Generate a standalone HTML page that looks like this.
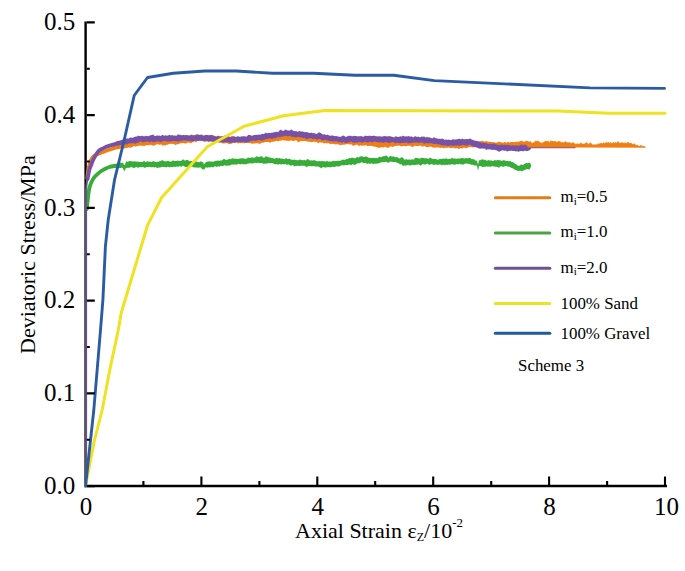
<!DOCTYPE html>
<html><head><meta charset="utf-8"><style>
html,body{margin:0;padding:0;background:#fff;width:685px;height:571px;overflow:hidden}
svg{display:block}
text{font-family:"Liberation Serif",serif;fill:#000}
.tk{font-size:25px}
.lg{font-size:16.9px}
.sub{font-size:11px}
.ax{font-size:22px}
.subz{font-size:12px}
.sup{font-size:13px}
</style></head><body>
<svg width="685" height="571" viewBox="0 0 685 571">
<rect width="685" height="571" fill="#fff"/>
<path d="M85.6,21.5 V487.3 M84.3,486 H667" stroke="#000" stroke-width="2.4" fill="none"/>
<g fill="none" stroke-linejoin="round" stroke-linecap="round">
<path d="M86.9,209.0 C87.0,208.3 87.1,206.2 87.2,205.0 C87.3,203.8 87.4,203.1 87.6,201.5 C87.8,199.9 87.9,197.7 88.2,195.4 C88.5,193.1 89.0,189.8 89.5,187.6 C90.0,185.4 90.7,183.7 91.5,182.0 C92.3,180.3 93.2,178.6 94.2,177.3 C95.2,176.0 96.2,175.2 97.4,174.2 C98.6,173.1 100.0,171.9 101.3,171.0 C102.6,170.1 103.8,169.4 105.3,168.7 C106.8,168.0 109.2,167.0 110.0,166.7" stroke="#38AC38" stroke-width="3.8"/><path d="M110.0,164.8 111.0,164.6 112.0,164.4 113.0,164.1 114.0,163.9 115.0,163.7 116.0,163.7 117.0,163.5 118.0,163.4 119.0,163.0 120.0,162.5 121.0,162.8 122.0,162.9 123.0,162.4 124.0,165.1 125.0,164.9 126.0,161.4 127.0,161.4 128.0,161.9 129.0,160.9 130.0,161.0 131.0,160.9 132.0,161.6 133.0,161.5 134.0,161.3 135.0,161.6 136.0,161.3 137.0,162.1 138.0,161.3 139.0,162.1 140.0,162.1 141.0,161.7 142.0,161.9 143.0,161.7 144.0,160.4 145.0,161.7 146.0,161.9 147.0,161.2 148.0,161.6 149.0,161.7 150.0,161.4 151.0,161.9 152.0,162.0 153.0,161.1 154.0,161.3 155.0,161.9 156.0,161.9 157.0,161.7 158.0,161.7 159.0,161.8 160.0,160.4 161.0,161.3 162.0,160.1 163.0,160.5 164.0,160.9 165.0,161.6 166.0,161.3 167.0,161.2 168.0,160.4 169.0,161.3 170.0,161.7 171.0,161.6 172.0,161.2 173.0,160.3 174.0,161.0 175.0,161.0 176.0,160.9 177.0,160.8 178.0,160.5 179.0,161.0 180.0,160.7 181.0,160.9 182.0,160.3 183.0,159.2 184.0,160.0 185.0,160.8 186.0,159.9 187.0,160.1 188.0,160.1 189.0,160.9 190.0,161.3 191.0,161.0 192.0,160.9 193.0,161.6 194.0,161.9 195.0,162.2 196.0,161.2 197.0,162.0 198.0,162.0 199.0,162.3 200.0,162.1 201.0,161.1 202.0,162.2 203.0,162.1 204.0,164.6 205.0,163.0 206.0,162.0 207.0,161.8 208.0,161.6 209.0,161.3 210.0,161.4 211.0,161.4 212.0,161.5 213.0,161.7 214.0,161.6 215.0,161.1 216.0,160.8 217.0,160.7 218.0,160.5 219.0,160.7 220.0,160.7 221.0,160.3 222.0,160.4 223.0,159.4 224.0,158.8 225.0,159.6 226.0,159.8 227.0,159.7 228.0,159.6 229.0,158.8 230.0,159.1 231.0,159.2 232.0,158.0 233.0,158.6 234.0,158.8 235.0,158.4 236.0,158.8 237.0,159.0 238.0,158.7 239.0,158.9 240.0,158.3 241.0,158.4 242.0,158.3 243.0,158.2 244.0,158.5 245.0,158.7 246.0,158.7 247.0,158.4 248.0,157.3 249.0,158.0 250.0,157.7 251.0,157.8 252.0,157.3 253.0,157.8 254.0,157.8 255.0,157.6 256.0,156.8 257.0,156.0 258.0,157.2 259.0,157.0 260.0,156.2 261.0,156.8 262.0,156.1 263.0,157.4 264.0,157.7 265.0,157.3 266.0,155.8 267.0,157.3 268.0,156.4 269.0,157.5 270.0,157.6 271.0,157.7 272.0,158.2 273.0,158.0 274.0,158.5 275.0,158.8 276.0,157.9 277.0,158.0 278.0,158.4 279.0,157.9 280.0,158.3 281.0,158.7 282.0,158.5 283.0,158.8 284.0,159.2 285.0,159.0 286.0,158.0 287.0,158.7 288.0,159.2 289.0,158.6 290.0,159.1 291.0,159.7 292.0,159.5 293.0,160.0 294.0,159.6 295.0,159.7 296.0,160.2 297.0,160.1 298.0,160.4 299.0,159.7 300.0,159.4 301.0,160.1 302.0,160.1 303.0,160.5 304.0,159.8 305.0,160.2 306.0,160.6 307.0,159.2 308.0,159.1 309.0,160.0 310.0,160.4 311.0,160.3 312.0,160.5 313.0,160.4 314.0,159.9 315.0,160.6 316.0,160.8 317.0,161.3 318.0,161.2 319.0,161.3 320.0,160.8 321.0,161.4 322.0,160.5 323.0,161.5 324.0,161.0 325.0,161.5 326.0,161.6 327.0,160.6 328.0,161.4 329.0,161.4 330.0,161.6 331.0,161.6 332.0,161.4 333.0,160.6 334.0,161.2 335.0,161.1 336.0,160.9 337.0,161.1 338.0,160.7 339.0,160.8 340.0,160.8 341.0,160.4 342.0,160.0 343.0,159.5 344.0,159.9 345.0,159.4 346.0,159.5 347.0,158.8 348.0,159.0 349.0,157.9 350.0,158.0 351.0,158.3 352.0,157.3 353.0,158.2 354.0,158.1 355.0,158.5 356.0,157.7 357.0,157.1 358.0,157.3 359.0,157.5 360.0,156.2 361.0,156.4 362.0,156.2 363.0,156.5 364.0,156.9 365.0,156.9 366.0,156.0 367.0,157.0 368.0,157.2 369.0,158.0 370.0,158.0 371.0,157.8 372.0,158.0 373.0,158.1 374.0,157.8 375.0,158.2 376.0,157.8 377.0,158.2 378.0,157.9 379.0,156.6 380.0,157.2 381.0,157.1 382.0,156.8 383.0,156.3 384.0,156.2 385.0,155.9 386.0,155.6 387.0,155.8 388.0,157.3 389.0,157.6 390.0,155.4 391.0,156.3 392.0,156.6 393.0,156.4 394.0,156.6 395.0,157.1 396.0,157.4 397.0,156.8 398.0,157.7 399.0,158.2 400.0,158.5 401.0,157.2 402.0,157.6 403.0,157.4 404.0,159.2 405.0,159.9 406.0,158.8 407.0,159.6 408.0,159.7 409.0,159.5 410.0,159.5 411.0,159.8 412.0,159.3 413.0,159.5 414.0,159.6 415.0,158.1 416.0,157.7 417.0,157.9 418.0,158.2 419.0,158.4 420.0,158.4 421.0,158.2 422.0,157.5 423.0,157.9 424.0,158.1 425.0,158.6 426.0,158.0 427.0,158.6 428.0,158.8 429.0,158.6 430.0,157.5 431.0,158.1 432.0,158.8 433.0,159.1 434.0,158.7 435.0,159.0 436.0,159.1 437.0,159.4 438.0,159.7 439.0,159.2 440.0,158.7 441.0,159.1 442.0,159.1 443.0,158.4 444.0,158.8 445.0,158.8 446.0,158.3 447.0,158.8 448.0,159.1 449.0,159.0 450.0,158.7 451.0,158.8 452.0,157.6 453.0,158.4 454.0,158.6 455.0,158.5 456.0,158.8 457.0,158.7 458.0,158.2 459.0,158.8 460.0,158.5 461.0,158.1 462.0,158.3 463.0,157.8 464.0,158.7 465.0,158.3 466.0,158.0 467.0,158.3 468.0,158.3 469.0,157.9 470.0,157.7 471.0,158.5 472.0,159.2 473.0,159.1 474.0,159.2 475.0,160.2 476.0,160.8 477.0,160.5 478.0,164.8 479.0,160.0 480.0,160.4 481.0,159.4 482.0,159.8 483.0,159.1 484.0,160.2 485.0,159.6 486.0,160.3 487.0,160.7 488.0,160.2 489.0,160.1 490.0,160.8 491.0,160.3 492.0,160.7 493.0,161.1 494.0,160.5 495.0,160.1 496.0,160.5 497.0,160.2 498.0,159.7 499.0,160.3 500.0,160.2 501.0,160.5 502.0,160.9 503.0,160.3 504.0,160.2 505.0,160.6 506.0,161.0 507.0,160.9 508.0,160.8 509.0,161.4 510.0,160.8 511.0,161.5 512.0,162.2 513.0,162.1 514.0,163.1 515.0,163.7 516.0,163.9 517.0,165.1 518.0,165.8 519.0,165.6 520.0,165.7 521.0,163.9 522.0,165.0 523.0,165.1 524.0,164.3 525.0,163.7 526.0,162.7 527.0,163.2 528.0,162.9 529.0,162.9 530.0,162.6 531.2,165.7 530.0,168.8 529.0,169.6 528.0,169.3 527.0,169.1 526.0,169.4 525.0,169.8 524.0,170.5 523.0,170.6 522.0,171.5 521.0,171.1 520.0,170.6 519.0,171.0 518.0,170.9 517.0,170.4 516.0,170.2 515.0,169.7 514.0,169.3 513.0,168.4 512.0,167.9 511.0,167.7 510.0,166.9 509.0,166.6 508.0,166.7 507.0,166.3 506.0,166.0 505.0,166.3 504.0,166.6 503.0,166.9 502.0,166.5 501.0,166.1 500.0,166.8 499.0,167.7 498.0,167.3 497.0,166.7 496.0,166.8 495.0,166.8 494.0,166.4 493.0,166.3 492.0,166.2 491.0,166.4 490.0,167.0 489.0,166.2 488.0,167.1 487.0,166.2 486.0,166.6 485.0,166.9 484.0,166.5 483.0,167.2 482.0,166.7 481.0,166.3 480.0,165.9 479.0,166.0 478.0,171.1 477.0,165.6 476.0,165.6 475.0,165.4 474.0,165.4 473.0,164.7 472.0,164.7 471.0,164.8 470.0,164.0 469.0,164.0 468.0,163.7 467.0,163.5 466.0,163.5 465.0,163.8 464.0,164.1 463.0,164.9 462.0,164.1 461.0,164.7 460.0,163.8 459.0,164.1 458.0,164.6 457.0,163.9 456.0,164.2 455.0,164.8 454.0,164.8 453.0,164.3 452.0,164.6 451.0,164.3 450.0,165.0 449.0,164.5 448.0,164.8 447.0,165.1 446.0,164.6 445.0,165.2 444.0,165.0 443.0,164.6 442.0,165.4 441.0,164.8 440.0,164.6 439.0,164.4 438.0,164.9 437.0,164.8 436.0,164.4 435.0,164.5 434.0,165.3 433.0,164.4 432.0,164.2 431.0,164.0 430.0,164.8 429.0,164.9 428.0,163.8 427.0,163.8 426.0,164.2 425.0,164.4 424.0,164.4 423.0,163.9 422.0,164.6 421.0,165.7 420.0,165.2 419.0,164.5 418.0,164.4 417.0,164.8 416.0,164.7 415.0,164.9 414.0,165.2 413.0,164.8 412.0,165.1 411.0,165.1 410.0,166.0 409.0,164.8 408.0,165.3 407.0,165.1 406.0,165.7 405.0,165.6 404.0,165.5 403.0,166.1 402.0,164.7 401.0,164.1 400.0,164.7 399.0,163.3 398.0,163.2 397.0,162.7 396.0,162.3 395.0,162.0 394.0,162.0 393.0,162.2 392.0,161.8 391.0,161.7 390.0,161.5 389.0,162.6 388.0,162.9 387.0,162.0 386.0,161.7 385.0,162.1 384.0,162.2 383.0,162.0 382.0,162.4 381.0,162.3 380.0,162.7 379.0,163.5 378.0,163.2 377.0,163.6 376.0,163.9 375.0,163.6 374.0,163.8 373.0,164.3 372.0,163.2 371.0,163.4 370.0,163.9 369.0,163.6 368.0,163.4 367.0,164.2 366.0,162.7 365.0,162.9 364.0,162.9 363.0,163.3 362.0,162.1 361.0,162.6 360.0,163.0 359.0,163.4 358.0,163.3 357.0,163.5 356.0,164.5 355.0,164.8 354.0,164.9 353.0,164.0 352.0,164.5 351.0,165.4 350.0,164.5 349.0,164.6 348.0,164.9 347.0,164.9 346.0,165.0 345.0,165.0 344.0,165.5 343.0,165.3 342.0,165.3 341.0,165.6 340.0,166.0 339.0,166.6 338.0,166.5 337.0,166.3 336.0,166.6 335.0,166.7 334.0,167.1 333.0,166.8 332.0,166.8 331.0,167.2 330.0,167.2 329.0,167.3 328.0,167.1 327.0,167.3 326.0,167.6 325.0,167.7 324.0,167.0 323.0,167.2 322.0,167.5 321.0,168.4 320.0,167.3 319.0,167.2 318.0,166.3 317.0,166.5 316.0,166.7 315.0,166.2 314.0,166.2 313.0,166.1 312.0,166.6 311.0,165.9 310.0,166.0 309.0,166.2 308.0,166.0 307.0,167.2 306.0,166.6 305.0,166.2 304.0,165.5 303.0,165.9 302.0,165.6 301.0,165.8 300.0,165.9 299.0,165.9 298.0,165.8 297.0,165.8 296.0,166.2 295.0,165.8 294.0,166.5 293.0,165.0 292.0,165.1 291.0,165.7 290.0,165.6 289.0,164.6 288.0,164.6 287.0,165.1 286.0,164.2 285.0,164.0 284.0,164.4 283.0,164.0 282.0,164.1 281.0,164.7 280.0,164.1 279.0,164.2 278.0,164.7 277.0,164.3 276.0,164.0 275.0,164.4 274.0,163.8 273.0,163.5 272.0,163.1 271.0,163.0 270.0,163.4 269.0,163.1 268.0,162.9 267.0,163.7 266.0,163.5 265.0,163.4 264.0,164.0 263.0,163.4 262.0,163.0 261.0,163.0 260.0,163.0 259.0,163.3 258.0,162.7 257.0,163.0 256.0,163.0 255.0,162.8 254.0,163.0 253.0,163.4 252.0,163.6 251.0,163.3 250.0,163.3 249.0,163.5 248.0,163.4 247.0,164.1 246.0,164.1 245.0,164.5 244.0,163.9 243.0,164.4 242.0,163.7 241.0,164.2 240.0,164.4 239.0,163.8 238.0,163.9 237.0,164.4 236.0,164.8 235.0,164.3 234.0,164.8 233.0,164.6 232.0,164.6 231.0,164.7 230.0,165.6 229.0,165.4 228.0,165.6 227.0,165.8 226.0,165.8 225.0,165.2 224.0,165.6 223.0,165.9 222.0,166.3 221.0,165.6 220.0,166.4 219.0,166.7 218.0,166.1 217.0,167.2 216.0,166.5 215.0,166.2 214.0,166.8 213.0,167.4 212.0,166.9 211.0,167.2 210.0,167.2 209.0,167.5 208.0,167.2 207.0,168.1 206.0,167.0 205.0,168.2 204.0,170.1 203.0,168.9 202.0,169.2 201.0,167.6 200.0,167.5 199.0,167.6 198.0,167.8 197.0,167.4 196.0,167.4 195.0,167.4 194.0,167.4 193.0,167.0 192.0,166.6 191.0,166.4 190.0,166.4 189.0,166.6 188.0,167.3 187.0,167.2 186.0,166.9 185.0,166.9 184.0,166.1 183.0,165.7 182.0,166.3 181.0,166.9 180.0,166.0 179.0,166.4 178.0,166.7 177.0,166.5 176.0,166.8 175.0,167.0 174.0,166.5 173.0,167.3 172.0,166.9 171.0,166.9 170.0,167.2 169.0,167.2 168.0,166.8 167.0,167.0 166.0,167.5 165.0,167.0 164.0,167.0 163.0,167.0 162.0,166.8 161.0,167.2 160.0,167.4 159.0,167.6 158.0,167.8 157.0,168.2 156.0,167.0 155.0,167.3 154.0,167.4 153.0,167.0 152.0,167.3 151.0,167.2 150.0,166.8 149.0,166.9 148.0,167.0 147.0,167.0 146.0,167.2 145.0,168.0 144.0,167.5 143.0,166.9 142.0,167.0 141.0,167.3 140.0,167.1 139.0,167.4 138.0,167.8 137.0,167.3 136.0,167.1 135.0,167.8 134.0,167.9 133.0,167.8 132.0,167.2 131.0,167.0 130.0,167.5 129.0,168.1 128.0,167.6 127.0,168.2 126.0,167.7 125.0,170.4 124.0,170.9 123.0,168.3 122.0,167.6 121.0,167.9 120.0,167.9 119.0,167.9 118.0,167.9 117.0,168.1 116.0,167.9 115.0,167.9 114.0,168.1 113.0,168.3 112.0,168.4 111.0,168.5 110.0,168.6Z" fill="#38AC38" stroke="none"/>
<path d="M87.2,178.0 C87.2,177.5 87.3,176.7 87.5,175.0 C87.7,173.3 88.2,170.1 88.6,168.0 C89.0,165.9 89.5,164.1 90.0,162.5 C90.5,160.9 91.0,159.8 91.8,158.6 C92.5,157.4 93.3,156.3 94.5,155.5 C95.7,154.7 97.4,154.4 98.8,153.8 C100.2,153.2 101.5,152.8 103.0,152.2 C104.5,151.6 105.8,150.9 107.5,150.3 C109.2,149.7 112.1,148.8 113.0,148.5" stroke="#EF7F14" stroke-width="3.6"/><path d="M113.0,146.5 114.0,146.0 115.0,145.6 116.0,145.3 117.0,144.8 118.0,144.6 119.0,144.3 120.0,143.8 121.0,143.6 122.0,143.6 123.0,143.4 124.0,142.7 125.0,142.8 126.0,141.7 127.0,141.8 128.0,141.3 129.0,141.7 130.0,141.2 131.0,140.8 132.0,140.5 133.0,140.7 134.0,140.1 135.0,139.8 136.0,140.3 137.0,140.1 138.0,140.1 139.0,138.1 140.0,138.8 141.0,139.2 142.0,139.6 143.0,138.6 144.0,138.7 145.0,139.4 146.0,139.5 147.0,139.4 148.0,138.3 149.0,137.6 150.0,138.6 151.0,138.4 152.0,137.7 153.0,138.6 154.0,137.9 155.0,138.4 156.0,138.4 157.0,136.7 158.0,138.0 159.0,138.5 160.0,137.6 161.0,138.2 162.0,138.5 163.0,137.7 164.0,138.2 165.0,138.6 166.0,138.6 167.0,137.8 168.0,137.9 169.0,138.2 170.0,138.0 171.0,138.3 172.0,138.4 173.0,138.3 174.0,136.8 175.0,137.5 176.0,136.9 177.0,137.2 178.0,136.5 179.0,136.8 180.0,136.8 181.0,136.9 182.0,137.0 183.0,137.3 184.0,137.0 185.0,136.4 186.0,136.8 187.0,136.6 188.0,136.4 189.0,136.1 190.0,135.7 191.0,134.8 192.0,134.5 193.0,135.2 194.0,135.2 195.0,135.5 196.0,134.4 197.0,133.7 198.0,134.4 199.0,134.8 200.0,135.0 201.0,135.3 202.0,135.4 203.0,135.7 204.0,135.5 205.0,135.4 206.0,135.4 207.0,135.4 208.0,135.3 209.0,135.7 210.0,135.7 211.0,135.4 212.0,135.8 213.0,135.2 214.0,135.6 215.0,136.2 216.0,136.4 217.0,136.5 218.0,136.2 219.0,135.8 220.0,136.4 221.0,136.2 222.0,136.5 223.0,136.6 224.0,137.0 225.0,136.8 226.0,136.6 227.0,136.7 228.0,136.6 229.0,136.8 230.0,136.8 231.0,136.5 232.0,136.0 233.0,136.2 234.0,136.0 235.0,136.8 236.0,136.8 237.0,137.2 238.0,137.3 239.0,137.1 240.0,137.4 241.0,136.8 242.0,136.6 243.0,137.2 244.0,136.7 245.0,137.0 246.0,136.7 247.0,137.2 248.0,137.0 249.0,136.2 250.0,136.4 251.0,137.0 252.0,136.5 253.0,136.6 254.0,136.7 255.0,135.8 256.0,136.6 257.0,137.1 258.0,135.4 259.0,136.0 260.0,136.2 261.0,136.1 262.0,135.3 263.0,136.2 264.0,136.0 265.0,136.2 266.0,135.7 267.0,136.1 268.0,135.3 269.0,135.3 270.0,135.6 271.0,135.8 272.0,135.6 273.0,135.6 274.0,134.2 275.0,134.8 276.0,134.6 277.0,134.5 278.0,134.7 279.0,134.3 280.0,133.9 281.0,134.5 282.0,134.2 283.0,134.2 284.0,134.5 285.0,134.6 286.0,134.1 287.0,134.2 288.0,133.8 289.0,134.3 290.0,133.8 291.0,134.0 292.0,134.4 293.0,134.5 294.0,134.3 295.0,134.1 296.0,134.5 297.0,134.3 298.0,134.6 299.0,134.6 300.0,135.0 301.0,134.8 302.0,134.6 303.0,134.1 304.0,134.8 305.0,134.3 306.0,134.7 307.0,134.6 308.0,134.2 309.0,134.7 310.0,135.1 311.0,135.6 312.0,135.6 313.0,135.6 314.0,136.1 315.0,136.1 316.0,134.8 317.0,135.6 318.0,136.0 319.0,136.0 320.0,135.9 321.0,136.4 322.0,136.2 323.0,136.3 324.0,136.7 325.0,136.6 326.0,137.0 327.0,136.9 328.0,137.1 329.0,137.2 330.0,137.1 331.0,137.4 332.0,136.8 333.0,137.8 334.0,137.6 335.0,137.3 336.0,135.9 337.0,137.0 338.0,137.8 339.0,137.9 340.0,137.4 341.0,137.8 342.0,138.1 343.0,138.0 344.0,137.3 345.0,137.7 346.0,137.6 347.0,137.8 348.0,137.3 349.0,138.2 350.0,137.6 351.0,138.3 352.0,138.0 353.0,137.9 354.0,138.3 355.0,138.7 356.0,138.3 357.0,138.7 358.0,138.4 359.0,137.9 360.0,138.8 361.0,138.3 362.0,138.9 363.0,138.9 364.0,139.0 365.0,139.3 366.0,138.8 367.0,139.6 368.0,137.8 369.0,138.9 370.0,139.5 371.0,140.1 372.0,140.2 373.0,139.5 374.0,139.6 375.0,140.6 376.0,141.1 377.0,141.3 378.0,141.4 379.0,140.5 380.0,140.9 381.0,140.9 382.0,140.0 383.0,139.6 384.0,139.9 385.0,140.8 386.0,139.9 387.0,140.3 388.0,140.7 389.0,139.8 390.0,138.9 391.0,140.0 392.0,140.5 393.0,140.1 394.0,139.3 395.0,139.9 396.0,139.9 397.0,139.7 398.0,139.9 399.0,139.7 400.0,140.1 401.0,139.5 402.0,139.8 403.0,139.9 404.0,140.3 405.0,140.1 406.0,139.7 407.0,139.6 408.0,139.9 409.0,138.9 410.0,139.6 411.0,139.4 412.0,138.8 413.0,139.3 414.0,139.5 415.0,139.6 416.0,140.0 417.0,139.6 418.0,139.8 419.0,139.7 420.0,139.9 421.0,139.4 422.0,140.0 423.0,139.6 424.0,139.7 425.0,140.1 426.0,140.0 427.0,140.2 428.0,140.1 429.0,140.3 430.0,140.7 431.0,140.7 432.0,140.4 433.0,140.9 434.0,140.4 435.0,140.3 436.0,140.9 437.0,140.4 438.0,141.1 439.0,140.8 440.0,141.5 441.0,141.6 442.0,141.5 443.0,140.7 444.0,141.6 445.0,141.9 446.0,141.9 447.0,141.9 448.0,141.5 449.0,141.6 450.0,141.5 451.0,141.8 452.0,141.2 453.0,141.8 454.0,141.6 455.0,142.2 456.0,141.9 457.0,141.9 458.0,141.4 459.0,141.7 460.0,142.1 461.0,141.9 462.0,142.0 463.0,142.0 464.0,141.5 465.0,141.0 466.0,141.6 467.0,141.2 468.0,140.6 469.0,140.6 470.0,140.9 471.0,141.2 472.0,140.8 473.0,141.1 474.0,140.4 475.0,140.8 476.0,140.7 477.0,140.9 478.0,141.3 479.0,141.2 480.0,141.4 481.0,140.9 482.0,140.8 483.0,141.2 484.0,141.3 485.0,141.4 486.0,140.9 487.0,141.4 488.0,141.4 489.0,142.0 490.0,141.8 491.0,142.0 492.0,142.0 493.0,142.3 494.0,142.3 495.0,142.5 496.0,142.5 497.0,142.7 498.0,141.7 499.0,141.8 500.0,142.0 501.0,142.2 502.0,142.4 503.0,142.7 504.0,142.3 505.0,141.9 506.0,142.4 507.0,142.7 508.0,141.6 509.0,142.2 510.0,142.4 511.0,141.9 512.0,141.9 513.0,141.9 514.0,142.1 515.0,142.2 516.0,141.8 517.0,141.5 518.0,142.0 519.0,141.3 520.0,141.5 521.0,140.6 522.0,140.9 523.0,141.4 524.0,141.5 525.0,141.7 526.0,140.4 527.0,141.1 528.0,141.3 529.0,141.7 530.0,141.2 531.0,141.4 532.2,144.3 531.0,147.9 530.0,148.1 529.0,147.1 528.0,147.3 527.0,147.2 526.0,147.8 525.0,147.5 524.0,147.4 523.0,147.8 522.0,147.7 521.0,148.5 520.0,148.4 519.0,147.9 518.0,148.0 517.0,148.8 516.0,148.4 515.0,148.4 514.0,148.5 513.0,149.3 512.0,149.4 511.0,149.6 510.0,149.1 509.0,148.5 508.0,148.3 507.0,148.6 506.0,149.0 505.0,149.5 504.0,148.7 503.0,148.2 502.0,148.5 501.0,148.8 500.0,148.6 499.0,148.7 498.0,148.0 497.0,148.2 496.0,148.6 495.0,148.8 494.0,148.3 493.0,149.0 492.0,148.1 491.0,148.1 490.0,148.3 489.0,149.0 488.0,148.1 487.0,148.5 486.0,148.1 485.0,148.7 484.0,148.2 483.0,148.3 482.0,147.0 481.0,147.0 480.0,147.5 479.0,147.7 478.0,147.1 477.0,146.9 476.0,146.9 475.0,146.9 474.0,147.0 473.0,147.6 472.0,147.5 471.0,146.8 470.0,146.9 469.0,147.3 468.0,147.5 467.0,147.8 466.0,148.5 465.0,147.8 464.0,147.7 463.0,147.9 462.0,148.7 461.0,148.1 460.0,148.2 459.0,149.2 458.0,148.4 457.0,148.0 456.0,148.4 455.0,148.0 454.0,148.4 453.0,147.5 452.0,147.9 451.0,147.9 450.0,148.0 449.0,147.6 448.0,147.6 447.0,148.0 446.0,147.8 445.0,147.8 444.0,148.6 443.0,148.1 442.0,147.6 441.0,147.9 440.0,147.8 439.0,147.6 438.0,147.5 437.0,147.2 436.0,147.5 435.0,147.8 434.0,147.5 433.0,147.4 432.0,147.2 431.0,146.6 430.0,146.6 429.0,147.1 428.0,146.9 427.0,147.2 426.0,147.0 425.0,146.0 424.0,146.1 423.0,146.5 422.0,146.7 421.0,145.5 420.0,145.7 419.0,145.8 418.0,146.1 417.0,146.1 416.0,145.9 415.0,145.6 414.0,146.0 413.0,147.3 412.0,146.7 411.0,146.3 410.0,145.8 409.0,145.8 408.0,145.8 407.0,146.0 406.0,146.4 405.0,146.1 404.0,145.9 403.0,146.1 402.0,146.2 401.0,146.5 400.0,145.8 399.0,145.7 398.0,145.7 397.0,145.7 396.0,145.9 395.0,146.1 394.0,146.3 393.0,147.2 392.0,146.6 391.0,146.6 390.0,146.6 389.0,147.7 388.0,147.4 387.0,147.9 386.0,147.0 385.0,146.8 384.0,147.2 383.0,147.6 382.0,147.2 381.0,147.3 380.0,147.6 379.0,147.9 378.0,147.4 377.0,147.3 376.0,147.1 375.0,146.5 374.0,146.8 373.0,146.2 372.0,146.0 371.0,145.9 370.0,145.7 369.0,145.9 368.0,145.9 367.0,146.1 366.0,145.0 365.0,145.5 364.0,145.7 363.0,145.2 362.0,145.9 361.0,145.4 360.0,145.2 359.0,146.4 358.0,145.0 357.0,144.7 356.0,144.7 355.0,145.2 354.0,145.4 353.0,146.1 352.0,144.8 351.0,144.3 350.0,144.5 349.0,144.6 348.0,144.1 347.0,144.0 346.0,144.4 345.0,144.4 344.0,144.7 343.0,144.7 342.0,144.7 341.0,144.9 340.0,145.2 339.0,144.6 338.0,144.4 337.0,144.1 336.0,144.4 335.0,144.3 334.0,144.0 333.0,143.8 332.0,144.1 331.0,143.7 330.0,144.2 329.0,143.3 328.0,143.1 327.0,143.5 326.0,143.2 325.0,143.0 324.0,143.7 323.0,142.6 322.0,142.8 321.0,142.5 320.0,142.3 319.0,142.7 318.0,143.2 317.0,142.2 316.0,141.8 315.0,142.2 314.0,141.5 313.0,141.7 312.0,142.3 311.0,142.0 310.0,141.9 309.0,141.6 308.0,141.7 307.0,141.4 306.0,141.1 305.0,141.0 304.0,141.1 303.0,141.0 302.0,140.9 301.0,141.2 300.0,141.1 299.0,142.0 298.0,142.4 297.0,140.6 296.0,140.6 295.0,140.3 294.0,141.0 293.0,140.9 292.0,140.6 291.0,140.6 290.0,140.5 289.0,141.2 288.0,140.6 287.0,140.9 286.0,140.5 285.0,140.6 284.0,140.6 283.0,140.1 282.0,140.2 281.0,140.8 280.0,140.5 279.0,141.1 278.0,141.3 277.0,140.7 276.0,140.9 275.0,141.2 274.0,141.4 273.0,141.7 272.0,141.7 271.0,141.9 270.0,143.0 269.0,142.1 268.0,141.9 267.0,142.0 266.0,142.0 265.0,142.0 264.0,142.5 263.0,142.8 262.0,142.8 261.0,143.0 260.0,143.9 259.0,143.8 258.0,143.2 257.0,143.3 256.0,143.3 255.0,143.6 254.0,143.4 253.0,143.4 252.0,143.9 251.0,143.1 250.0,143.3 249.0,143.3 248.0,142.8 247.0,143.0 246.0,142.8 245.0,143.0 244.0,143.5 243.0,143.1 242.0,143.2 241.0,143.1 240.0,143.2 239.0,143.0 238.0,143.7 237.0,142.8 236.0,142.5 235.0,142.5 234.0,142.5 233.0,143.0 232.0,143.5 231.0,143.8 230.0,144.0 229.0,144.2 228.0,143.6 227.0,143.2 226.0,143.0 225.0,143.4 224.0,143.3 223.0,143.7 222.0,142.7 221.0,142.5 220.0,142.3 219.0,142.9 218.0,142.2 217.0,142.1 216.0,142.4 215.0,142.1 214.0,142.3 213.0,141.9 212.0,141.8 211.0,141.8 210.0,141.5 209.0,141.9 208.0,142.1 207.0,141.3 206.0,141.4 205.0,141.8 204.0,141.7 203.0,141.1 202.0,141.3 201.0,140.8 200.0,140.9 199.0,140.7 198.0,141.1 197.0,141.3 196.0,142.5 195.0,141.4 194.0,141.4 193.0,141.9 192.0,142.4 191.0,143.2 190.0,143.1 189.0,142.6 188.0,142.6 187.0,142.9 186.0,143.4 185.0,143.6 184.0,143.2 183.0,142.9 182.0,143.1 181.0,143.4 180.0,143.3 179.0,144.0 178.0,144.2 177.0,144.2 176.0,144.7 175.0,144.9 174.0,143.9 173.0,144.0 172.0,143.8 171.0,144.0 170.0,143.8 169.0,144.1 168.0,144.4 167.0,144.8 166.0,145.1 165.0,145.7 164.0,144.7 163.0,145.9 162.0,145.1 161.0,144.3 160.0,144.9 159.0,144.5 158.0,144.2 157.0,144.5 156.0,144.5 155.0,145.3 154.0,145.8 153.0,145.5 152.0,145.5 151.0,144.7 150.0,144.8 149.0,145.2 148.0,145.2 147.0,145.0 146.0,145.5 145.0,145.6 144.0,146.6 143.0,145.5 142.0,145.9 141.0,145.5 140.0,145.8 139.0,145.7 138.0,145.7 137.0,146.3 136.0,146.4 135.0,146.5 134.0,146.1 133.0,146.5 132.0,147.2 131.0,147.6 130.0,147.8 129.0,147.5 128.0,147.5 127.0,148.0 126.0,148.1 125.0,148.2 124.0,148.6 123.0,148.7 122.0,148.8 121.0,148.5 120.0,148.8 119.0,148.9 118.0,149.3 117.0,149.3 116.0,149.5 115.0,149.8 114.0,150.0 113.0,150.3Z" fill="#EF7F14" stroke="none"/>
<path d="M87.6,179.0 C87.6,178.8 87.5,179.2 87.8,177.7 C88.1,176.2 88.8,172.1 89.3,170.0 C89.8,167.9 90.5,166.8 91.1,165.2 C91.7,163.6 92.3,161.8 93.0,160.3 C93.7,158.9 94.0,158.1 95.0,156.5 C96.0,154.9 97.5,152.2 98.8,150.8 C100.1,149.5 101.5,149.2 103.0,148.4 C104.5,147.7 105.8,146.9 107.5,146.3 C109.2,145.7 112.1,144.9 113.0,144.6" stroke="#7750A8" stroke-width="3.8"/><path d="M113.0,142.7 114.0,142.5 115.0,142.1 116.0,141.8 117.0,141.1 118.0,141.1 119.0,140.8 120.0,140.4 121.0,140.2 122.0,139.8 123.0,139.6 124.0,139.4 125.0,139.0 126.0,138.8 127.0,138.3 128.0,138.5 129.0,138.4 130.0,137.6 131.0,137.5 132.0,137.8 133.0,137.7 134.0,136.9 135.0,136.8 136.0,136.5 137.0,136.6 138.0,135.4 139.0,135.9 140.0,136.0 141.0,136.3 142.0,135.5 143.0,136.3 144.0,136.2 145.0,136.3 146.0,135.8 147.0,135.9 148.0,136.2 149.0,135.9 150.0,135.6 151.0,135.0 152.0,135.3 153.0,134.3 154.0,135.6 155.0,136.0 156.0,136.1 157.0,135.3 158.0,135.7 159.0,135.4 160.0,135.7 161.0,135.9 162.0,135.1 163.0,135.1 164.0,135.7 165.0,135.4 166.0,135.2 167.0,135.7 168.0,135.5 169.0,135.0 170.0,135.1 171.0,135.5 172.0,134.9 173.0,135.5 174.0,135.6 175.0,135.5 176.0,135.7 177.0,135.6 178.0,134.1 179.0,135.0 180.0,134.5 181.0,135.2 182.0,135.3 183.0,135.0 184.0,134.9 185.0,135.3 186.0,135.1 187.0,135.1 188.0,135.3 189.0,135.4 190.0,135.6 191.0,134.8 192.0,135.2 193.0,135.4 194.0,135.4 195.0,135.0 196.0,135.2 197.0,134.7 198.0,135.0 199.0,134.7 200.0,134.9 201.0,134.5 202.0,134.7 203.0,135.4 204.0,135.8 205.0,135.2 206.0,134.8 207.0,134.9 208.0,135.0 209.0,135.5 210.0,134.7 211.0,135.2 212.0,134.8 213.0,135.5 214.0,136.3 215.0,136.2 216.0,136.6 217.0,136.5 218.0,135.6 219.0,136.3 220.0,136.9 221.0,136.2 222.0,136.5 223.0,136.0 224.0,136.0 225.0,135.6 226.0,136.5 227.0,136.5 228.0,135.1 229.0,136.7 230.0,137.3 231.0,137.1 232.0,136.7 233.0,136.8 234.0,136.5 235.0,136.9 236.0,137.1 237.0,136.6 238.0,136.3 239.0,136.4 240.0,136.9 241.0,136.4 242.0,136.4 243.0,136.2 244.0,136.3 245.0,136.5 246.0,136.5 247.0,136.4 248.0,135.1 249.0,134.7 250.0,135.0 251.0,135.6 252.0,135.7 253.0,135.4 254.0,134.9 255.0,135.0 256.0,134.7 257.0,134.9 258.0,134.8 259.0,134.6 260.0,134.7 261.0,134.5 262.0,133.7 263.0,134.1 264.0,134.1 265.0,133.3 266.0,132.6 267.0,133.4 268.0,133.1 269.0,133.1 270.0,132.8 271.0,132.9 272.0,132.6 273.0,132.7 274.0,132.1 275.0,132.3 276.0,131.8 277.0,131.9 278.0,131.8 279.0,131.5 280.0,129.6 281.0,130.1 282.0,130.6 283.0,131.0 284.0,130.8 285.0,129.5 286.0,129.8 287.0,130.2 288.0,130.5 289.0,130.4 290.0,130.4 291.0,129.4 292.0,129.8 293.0,130.7 294.0,131.0 295.0,131.3 296.0,131.1 297.0,131.6 298.0,131.7 299.0,130.9 300.0,131.2 301.0,131.4 302.0,131.4 303.0,131.6 304.0,131.9 305.0,132.3 306.0,132.0 307.0,132.2 308.0,132.2 309.0,132.9 310.0,133.0 311.0,132.5 312.0,132.9 313.0,133.2 314.0,133.0 315.0,133.4 316.0,133.7 317.0,133.9 318.0,132.7 319.0,132.3 320.0,132.7 321.0,133.0 322.0,134.2 323.0,134.4 324.0,134.2 325.0,134.4 326.0,134.9 327.0,134.9 328.0,134.5 329.0,135.5 330.0,135.8 331.0,135.8 332.0,135.3 333.0,135.7 334.0,135.8 335.0,136.2 336.0,135.9 337.0,136.2 338.0,136.6 339.0,136.7 340.0,136.7 341.0,136.8 342.0,136.0 343.0,135.6 344.0,135.8 345.0,136.4 346.0,136.9 347.0,136.5 348.0,136.0 349.0,135.6 350.0,136.2 351.0,135.6 352.0,136.4 353.0,136.1 354.0,135.8 355.0,136.1 356.0,136.1 357.0,136.2 358.0,136.4 359.0,136.1 360.0,136.5 361.0,135.8 362.0,136.6 363.0,136.8 364.0,136.6 365.0,135.4 366.0,135.9 367.0,135.7 368.0,136.2 369.0,135.5 370.0,136.0 371.0,135.7 372.0,135.9 373.0,136.0 374.0,135.6 375.0,136.0 376.0,136.3 377.0,136.2 378.0,136.5 379.0,136.2 380.0,136.3 381.0,136.4 382.0,136.7 383.0,136.3 384.0,136.3 385.0,135.7 386.0,136.4 387.0,136.3 388.0,136.6 389.0,136.0 390.0,136.3 391.0,136.4 392.0,136.7 393.0,137.0 394.0,137.4 395.0,136.8 396.0,136.1 397.0,137.0 398.0,136.7 399.0,136.9 400.0,136.3 401.0,136.4 402.0,136.4 403.0,135.6 404.0,136.2 405.0,136.6 406.0,136.3 407.0,136.6 408.0,136.2 409.0,136.0 410.0,136.8 411.0,136.4 412.0,136.4 413.0,137.2 414.0,137.3 415.0,136.1 416.0,136.5 417.0,137.0 418.0,136.5 419.0,136.9 420.0,137.3 421.0,136.9 422.0,136.3 423.0,136.9 424.0,136.3 425.0,137.2 426.0,137.5 427.0,136.7 428.0,137.5 429.0,137.3 430.0,137.6 431.0,138.1 432.0,138.3 433.0,138.3 434.0,137.0 435.0,138.0 436.0,138.2 437.0,138.6 438.0,138.7 439.0,138.7 440.0,138.7 441.0,139.0 442.0,138.4 443.0,138.8 444.0,139.6 445.0,140.0 446.0,139.3 447.0,140.1 448.0,139.5 449.0,139.7 450.0,139.9 451.0,140.2 452.0,139.8 453.0,139.1 454.0,139.8 455.0,139.3 456.0,139.8 457.0,139.0 458.0,139.3 459.0,138.7 460.0,138.8 461.0,139.4 462.0,138.6 463.0,138.9 464.0,139.3 465.0,139.2 466.0,138.9 467.0,139.0 468.0,139.2 469.0,138.9 470.0,138.2 471.0,139.2 472.0,139.5 473.0,140.1 474.0,140.5 475.0,140.7 476.0,141.3 477.0,140.7 478.0,141.8 479.0,141.6 480.0,141.9 481.0,142.4 482.0,143.0 483.0,142.3 484.0,142.9 485.0,143.2 486.0,142.9 487.0,143.4 488.0,143.9 489.0,144.0 490.0,143.6 491.0,144.1 492.0,143.9 493.0,143.5 494.0,143.2 495.0,144.1 496.0,144.5 497.0,144.5 498.0,144.9 499.0,145.1 500.0,145.3 501.0,144.5 502.0,144.5 503.0,145.0 504.0,144.7 505.0,144.8 506.0,144.8 507.0,145.3 508.0,144.7 509.0,145.1 510.0,145.5 511.0,145.7 512.0,144.9 513.0,145.4 514.0,145.5 515.0,145.5 516.0,145.6 517.0,145.4 518.0,145.5 519.0,145.8 520.0,145.1 521.0,144.7 522.0,144.2 523.0,145.2 524.0,145.2 525.0,144.2 526.0,145.2 527.0,145.5 528.0,145.0 529.0,144.8 530.0,144.8 531.2,147.7 530.0,150.2 529.0,150.3 528.0,151.1 527.0,151.1 526.0,151.3 525.0,150.5 524.0,150.9 523.0,151.6 522.0,151.1 521.0,151.0 520.0,151.2 519.0,151.4 518.0,151.7 517.0,151.1 516.0,151.7 515.0,151.0 514.0,150.9 513.0,151.1 512.0,150.7 511.0,150.8 510.0,150.7 509.0,150.9 508.0,151.0 507.0,151.7 506.0,150.6 505.0,150.7 504.0,150.8 503.0,150.3 502.0,150.5 501.0,150.8 500.0,151.6 499.0,151.7 498.0,151.2 497.0,150.5 496.0,150.2 495.0,149.9 494.0,149.8 493.0,149.9 492.0,149.7 491.0,149.7 490.0,149.3 489.0,149.5 488.0,149.2 487.0,149.5 486.0,150.0 485.0,148.3 484.0,148.5 483.0,148.7 482.0,148.3 481.0,148.7 480.0,148.6 479.0,148.6 478.0,148.3 477.0,147.6 476.0,147.3 475.0,147.2 474.0,147.1 473.0,146.5 472.0,145.7 471.0,145.4 470.0,144.4 469.0,144.8 468.0,145.3 467.0,145.9 466.0,145.0 465.0,145.8 464.0,145.1 463.0,144.9 462.0,145.0 461.0,145.4 460.0,145.6 459.0,146.0 458.0,145.2 457.0,145.6 456.0,145.7 455.0,145.3 454.0,145.6 453.0,146.2 452.0,145.5 451.0,145.3 450.0,145.5 449.0,145.5 448.0,146.3 447.0,145.7 446.0,145.4 445.0,145.6 444.0,145.3 443.0,145.6 442.0,145.1 441.0,145.5 440.0,144.2 439.0,144.4 438.0,144.3 437.0,144.3 436.0,143.7 435.0,144.0 434.0,143.7 433.0,143.7 432.0,143.3 431.0,143.3 430.0,143.2 429.0,143.3 428.0,143.4 427.0,143.2 426.0,143.1 425.0,143.8 424.0,143.6 423.0,143.1 422.0,142.2 421.0,142.5 420.0,142.8 419.0,142.7 418.0,142.8 417.0,142.3 416.0,142.8 415.0,142.5 414.0,142.5 413.0,142.5 412.0,143.0 411.0,142.9 410.0,143.2 409.0,143.1 408.0,143.7 407.0,142.6 406.0,142.4 405.0,142.7 404.0,142.9 403.0,142.8 402.0,142.9 401.0,143.1 400.0,143.4 399.0,142.9 398.0,142.7 397.0,142.8 396.0,142.7 395.0,143.4 394.0,142.1 393.0,142.3 392.0,142.1 391.0,142.4 390.0,142.7 389.0,143.1 388.0,143.0 387.0,142.0 386.0,142.3 385.0,142.3 384.0,142.8 383.0,142.8 382.0,142.4 381.0,142.1 380.0,142.3 379.0,142.8 378.0,142.1 377.0,142.0 376.0,141.9 375.0,141.3 374.0,141.6 373.0,142.6 372.0,142.3 371.0,142.3 370.0,141.5 369.0,142.2 368.0,142.6 367.0,142.3 366.0,142.3 365.0,141.6 364.0,141.9 363.0,142.4 362.0,142.9 361.0,141.9 360.0,141.9 359.0,142.0 358.0,142.3 357.0,142.8 356.0,142.3 355.0,142.9 354.0,142.6 353.0,142.9 352.0,141.8 351.0,141.6 350.0,142.0 349.0,142.2 348.0,142.6 347.0,142.7 346.0,143.0 345.0,143.0 344.0,141.8 343.0,142.1 342.0,143.2 341.0,142.1 340.0,141.9 339.0,142.1 338.0,142.4 337.0,141.3 336.0,141.3 335.0,141.2 334.0,141.6 333.0,141.4 332.0,141.4 331.0,140.8 330.0,141.5 329.0,140.8 328.0,140.8 327.0,140.2 326.0,140.0 325.0,139.8 324.0,139.9 323.0,140.2 322.0,140.5 321.0,139.4 320.0,139.1 319.0,139.1 318.0,139.1 317.0,140.0 316.0,139.0 315.0,139.1 314.0,138.6 313.0,139.2 312.0,138.7 311.0,138.1 310.0,138.3 309.0,138.4 308.0,138.6 307.0,139.2 306.0,138.9 305.0,137.8 304.0,137.9 303.0,137.9 302.0,137.6 301.0,137.3 300.0,137.2 299.0,137.0 298.0,136.8 297.0,137.0 296.0,137.6 295.0,137.3 294.0,136.9 293.0,136.5 292.0,137.3 291.0,136.4 290.0,135.5 289.0,136.1 288.0,136.8 287.0,135.7 286.0,135.9 285.0,135.6 284.0,136.1 283.0,136.7 282.0,136.5 281.0,136.6 280.0,137.2 279.0,136.7 278.0,137.0 277.0,137.6 276.0,137.7 275.0,138.2 274.0,138.2 273.0,138.3 272.0,139.6 271.0,138.2 270.0,138.4 269.0,138.4 268.0,138.7 267.0,139.2 266.0,139.1 265.0,139.4 264.0,139.8 263.0,140.7 262.0,140.2 261.0,141.0 260.0,139.8 259.0,139.9 258.0,140.1 257.0,140.5 256.0,141.0 255.0,140.8 254.0,140.7 253.0,140.6 252.0,140.8 251.0,140.9 250.0,141.2 249.0,141.7 248.0,142.0 247.0,142.6 246.0,142.7 245.0,142.6 244.0,141.9 243.0,141.8 242.0,142.0 241.0,142.3 240.0,142.3 239.0,142.1 238.0,141.9 237.0,142.0 236.0,142.3 235.0,142.7 234.0,143.0 233.0,142.3 232.0,142.4 231.0,143.1 230.0,142.8 229.0,142.5 228.0,142.0 227.0,142.4 226.0,142.0 225.0,141.9 224.0,142.2 223.0,142.2 222.0,142.4 221.0,142.3 220.0,142.5 219.0,141.9 218.0,142.1 217.0,142.2 216.0,142.8 215.0,142.1 214.0,141.7 213.0,142.0 212.0,141.1 211.0,141.3 210.0,141.1 209.0,141.4 208.0,140.9 207.0,141.0 206.0,141.2 205.0,140.8 204.0,141.2 203.0,140.8 202.0,141.0 201.0,140.5 200.0,140.4 199.0,140.7 198.0,140.7 197.0,140.7 196.0,140.7 195.0,140.5 194.0,140.7 193.0,141.4 192.0,141.2 191.0,141.3 190.0,140.7 189.0,140.8 188.0,140.7 187.0,140.5 186.0,140.8 185.0,140.2 184.0,140.5 183.0,140.3 182.0,140.9 181.0,140.7 180.0,140.9 179.0,141.5 178.0,141.9 177.0,140.9 176.0,141.5 175.0,141.1 174.0,141.1 173.0,141.0 172.0,141.4 171.0,141.0 170.0,142.0 169.0,141.2 168.0,141.9 167.0,141.2 166.0,141.0 165.0,141.2 164.0,141.0 163.0,141.0 162.0,141.4 161.0,142.4 160.0,141.7 159.0,141.4 158.0,141.4 157.0,141.2 156.0,141.8 155.0,141.9 154.0,142.3 153.0,142.3 152.0,141.6 151.0,141.5 150.0,142.8 149.0,141.8 148.0,141.6 147.0,141.3 146.0,142.1 145.0,141.6 144.0,141.9 143.0,142.4 142.0,142.1 141.0,141.2 140.0,141.6 139.0,142.2 138.0,142.8 137.0,142.6 136.0,143.4 135.0,144.1 134.0,142.8 133.0,143.6 132.0,142.9 131.0,143.4 130.0,143.2 129.0,143.4 128.0,143.9 127.0,144.4 126.0,144.8 125.0,144.1 124.0,144.5 123.0,144.4 122.0,145.0 121.0,145.1 120.0,145.1 119.0,145.4 118.0,145.8 117.0,145.6 116.0,145.8 115.0,146.1 114.0,146.4 113.0,146.5Z" fill="#7750A8" stroke="none"/>
<path d="M530,147.6 H575" stroke="#7750A8" stroke-width="1.4"/>
<path d="M528.0,143.1 529.2,142.9 530.4,142.4 531.6,143.5 532.8,142.9 534.0,142.9 535.2,141.2 536.4,141.3 537.6,141.3 538.8,141.3 540.0,142.8 541.2,143.2 542.4,143.0 543.6,142.2 544.8,141.8 546.0,141.0 547.2,141.7 548.4,141.3 549.6,142.2 550.8,141.0 552.0,141.3 553.2,141.6 554.4,141.5 555.6,141.6 556.8,142.3 558.0,141.7 559.2,141.6 560.4,142.0 561.6,142.4 562.8,142.7 564.0,142.7 565.2,141.6 566.4,142.5 567.6,142.7 568.8,142.8 570.0,142.8 571.2,143.4 572.4,142.8 573.6,143.0 574.8,144.0 576.0,144.3 577.2,143.8 578.4,144.2 579.6,143.9 580.8,142.9 582.0,144.1 583.2,144.1 584.4,144.0 585.6,143.2 586.8,142.7 588.0,144.4 589.2,143.7 590.4,142.9 591.6,143.9 592.8,144.9 594.0,145.0 595.2,144.7 596.4,144.9 597.6,143.9 598.8,144.2 600.0,143.8 601.2,143.3 602.4,144.0 603.6,142.7 604.8,143.7 606.0,142.6 607.2,143.1 608.4,142.4 609.6,143.2 610.8,142.7 612.0,144.0 613.2,142.2 614.4,143.3 615.6,142.5 616.8,143.2 618.0,141.5 619.2,143.1 620.4,143.2 621.6,142.7 622.8,143.1 624.0,143.2 625.2,143.0 626.4,143.6 627.6,142.3 628.8,143.0 630.0,143.5 631.2,143.3 632.4,144.5 633.6,143.9 634.8,144.2 636.0,145.6 637.2,145.1 638.4,146.0 639.6,146.2 640.8,145.6 642.0,146.1 643.2,146.5 644.4,146.5 645.5,147.3 528.0,146.9Z" fill="#EF7F14" stroke="#EF7F14" stroke-width="0.8"/>
<path d="M86.1,486 V190 Q86.5,182 87.6,179" stroke="#66558A" stroke-width="2.0"/>
<path d="M85.5,486.0 94.5,440.0 102.2,410.0 109.9,369.2 118.3,330.0 121.2,313.0 147.5,225.4 161.5,197.7 207.3,146.8 244.1,126.3 283.5,115.8 325.0,110.5 557.8,111.1 608.7,113.2 665.0,113.3" stroke="#EEE221" stroke-width="3.0"/>
<path d="M85.5,486.0 93.8,410.0 100.5,330.0 102.9,300.0 105.4,246.6 108.2,220.0 114.5,180.0 124.2,140.0 134.2,95.5 147.5,77.5 173.2,73.3 204.8,71.0 236.3,71.0 272.5,73.3 313.5,73.3 355.2,75.2 393.8,75.2 434.3,80.6 590.0,87.9 664.5,88.4" stroke="#2B5CA3" stroke-width="2.9"/>
</g>
<path d="M86.8,486.1 H94.8 M86.8,393.4 H94.8 M86.8,300.6 H94.8 M86.8,207.9 H94.8 M86.8,115.1 H94.8 M86.8,22.4 H94.8 M86.8,439.7 H89.8 M86.8,347.0 H89.8 M86.8,254.3 H89.8 M86.8,161.5 H89.8 M86.8,68.8 H89.8 M143.4,486 V481 M201.4,486 V476.5 M259.4,486 V481 M317.3,486 V476.5 M375.2,486 V481 M433.2,486 V476.5 M491.2,486 V481 M549.1,486 V476.5 M607.1,486 V481 M665.0,486 V476.5" stroke="#000" stroke-width="2.1" fill="none"/>
<text x="75.3" y="493.7" text-anchor="end" class="tk">0.0</text><text x="75.3" y="401.0" text-anchor="end" class="tk">0.1</text><text x="75.3" y="308.2" text-anchor="end" class="tk">0.2</text><text x="75.3" y="215.5" text-anchor="end" class="tk">0.3</text><text x="75.3" y="122.7" text-anchor="end" class="tk">0.4</text><text x="75.3" y="30.0" text-anchor="end" class="tk">0.5</text>
<text x="85.9" y="515.2" text-anchor="middle" class="tk">0</text><text x="201.8" y="515.2" text-anchor="middle" class="tk">2</text><text x="317.7" y="515.2" text-anchor="middle" class="tk">4</text><text x="433.6" y="515.2" text-anchor="middle" class="tk">6</text><text x="549.5" y="515.2" text-anchor="middle" class="tk">8</text><text x="666.4" y="515.2" text-anchor="middle" class="tk">10</text>
<path d="M495.3,197.8 H549.8" stroke="#E27D1A" stroke-width="3.0" stroke-linecap="round" fill="none"/><text x="560.5" y="202.0" class="lg">m<tspan class="sub" dy="2.5">i</tspan><tspan dy="-2.5">=0.5</tspan></text><path d="M495.3,233.0 H549.8" stroke="#4AA446" stroke-width="3.0" stroke-linecap="round" fill="none"/><text x="560.5" y="237.2" class="lg">m<tspan class="sub" dy="2.5">i</tspan><tspan dy="-2.5">=1.0</tspan></text><path d="M495.3,268.3 H549.8" stroke="#70508F" stroke-width="3.0" stroke-linecap="round" fill="none"/><text x="560.5" y="272.5" class="lg">m<tspan class="sub" dy="2.5">i</tspan><tspan dy="-2.5">=2.0</tspan></text><path d="M495.3,303.5 H549.8" stroke="#ECE324" stroke-width="3.0" stroke-linecap="round" fill="none"/><text x="560.5" y="308.8" class="lg">100% Sand</text><path d="M495.3,333.2 H549.8" stroke="#1F5A9E" stroke-width="3.0" stroke-linecap="round" fill="none"/><text x="560.5" y="338.5" class="lg">100% Gravel</text><text x="518" y="371.1" class="lg">Scheme 3</text>
<text transform="translate(35.2,254.6) rotate(-90)" text-anchor="middle" class="ax">Deviatoric Stress/MPa</text>
<text x="295" y="537.9" class="ax">Axial Strain ε<tspan class="subz" dy="3">Z</tspan><tspan dy="-3">/10</tspan><tspan class="sup" dy="-11">-2</tspan></text>
</svg>
</body></html>
